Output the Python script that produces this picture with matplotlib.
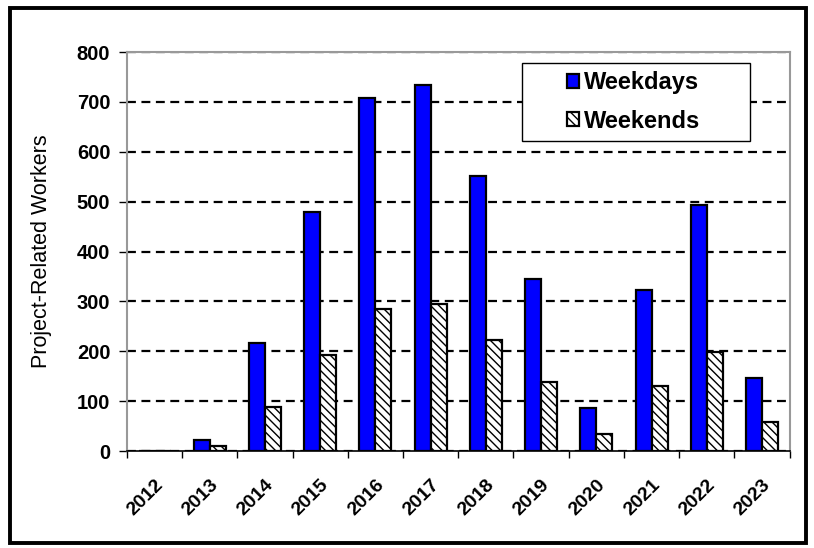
import numpy as np
import matplotlib
matplotlib.use("Agg")
import matplotlib.pyplot as plt
from matplotlib.patches import Rectangle

plt.rcParams["font.family"] = ["Liberation Sans", "DejaVu Sans"]
plt.rcParams["hatch.linewidth"] = 1.0

years = ["2012", "2013", "2014", "2015", "2016", "2017",
         "2018", "2019", "2020", "2021", "2022", "2023"]
weekdays = [0, 22, 217, 480, 708, 734, 552, 345, 86, 322, 493, 146]
weekends = [0, 10, 88, 193, 284, 295, 222, 139, 35, 130, 198, 58]

fig = plt.figure(figsize=(8.14, 5.48), dpi=100)
ax = fig.add_axes([0.156, 0.177, 0.814, 0.728])

# outer frame around the whole chart
fig.patches.append(Rectangle((0.012, 0.01), 0.978, 0.975, transform=fig.transFigure,
                             fill=False, edgecolor="black", linewidth=2.8))

x = np.arange(len(years))
w = 0.29
ax.bar(x - w / 2, weekdays, w, color="#0000FF", edgecolor="black",
       linewidth=1.6, label="Weekdays", zorder=3)
ax.bar(x + w / 2, weekends, w, color="white", edgecolor="black",
       linewidth=1.6, hatch="\\\\\\\\", label="Weekends", zorder=3)

ax.set_xlim(-0.5, len(years) - 0.5)
ax.set_ylim(0, 800)
ax.set_yticks(range(0, 801, 100))
ax.yaxis.grid(True, color="black", linestyle=(0, (4, 2.5)), linewidth=1.6)
ax.set_axisbelow(True)

ax.set_xticks(x)
ax.set_xticklabels(years, rotation=45, ha="right", rotation_mode="anchor",
                   fontsize=14, fontweight="bold")
ax.set_xticks(np.arange(-0.5, len(years)), minor=True)
ax.tick_params(axis="x", which="major", length=0, pad=18)
ax.tick_params(axis="x", which="minor", length=5, width=1, direction="out")
ax.tick_params(axis="y", length=6, width=1, labelsize=14.5, pad=6)
for lbl in ax.get_yticklabels():
    lbl.set_fontweight("bold")

ax.set_ylabel("Project-Related Workers", fontsize=15.5, labelpad=18)

ax.spines["bottom"].set_color("black")
ax.spines["bottom"].set_linewidth(1.2)
for side in ["top", "right", "left"]:
    ax.spines[side].set_color("#999999")
    ax.spines[side].set_linewidth(1.5)

# legend box drawn separately so it can be wider than the entries
ax.add_patch(Rectangle((0.596, 0.777), 0.344, 0.195, transform=ax.transAxes,
                       facecolor="white", edgecolor="black", linewidth=1.0,
                       zorder=4))
leg = ax.legend(loc="center", bbox_to_anchor=(0.765, 0.875),
                prop={"weight": "bold", "size": 17}, frameon=False,
                handlelength=0.5, handleheight=0.5, handletextpad=0.2,
                borderpad=0.2, labelspacing=0.65, borderaxespad=0)
leg.set_zorder(5)

fig.savefig("out.png", dpi=100)
